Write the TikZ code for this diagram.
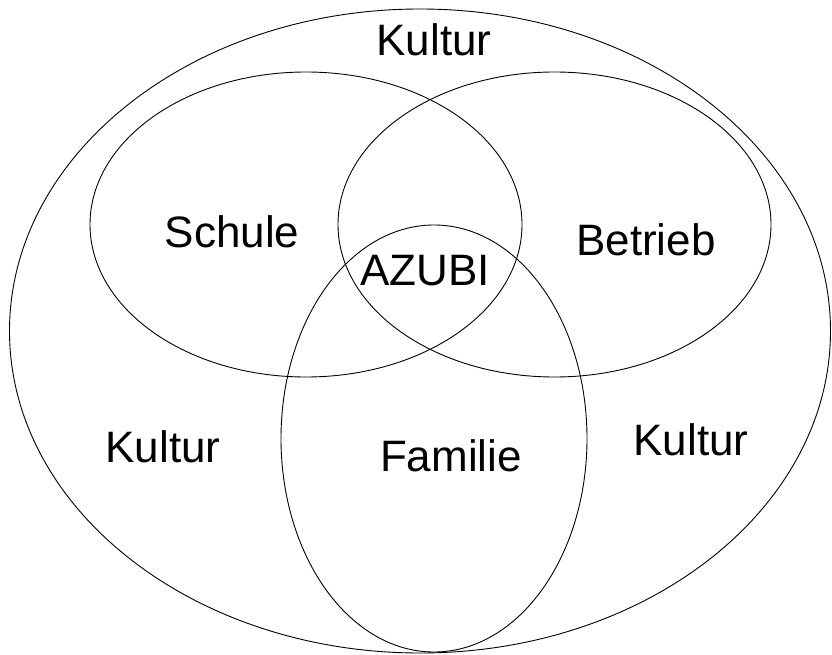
\documentclass[tikz,border=0pt]{standalone}
\usepackage{fontspec}
\setmainfont{Liberation Sans}
\usetikzlibrary{shapes.geometric}
\tikzset{
  ring/.style={ellipse, draw=black, line width=0.9pt, inner sep=0pt},
  lbl/.style={font=\fontsize{44}{50}\selectfont, inner sep=0pt}
}
\begin{document}
\begin{tikzpicture}[x=1pt,y=-1pt]
\useasboundingbox (0,0) rectangle (832,655);
\node[ring, minimum width=821pt, minimum height=644pt] (kultur) at (420,331) {};
\node[ring, minimum width=432pt, minimum height=305pt] (schule) at (306,224.5) {};
\node[ring, minimum width=433pt, minimum height=305pt] (betrieb) at (554.5,224.5) {};
\node[ring, minimum width=306pt, minimum height=427pt] (familie) at (434,438.5) {};
\node[lbl] (tKt) at (434,40) {Kultur};
\node[lbl] (tS) at (232,232) {Schule};
\node[lbl] (tB) at (646,240) {Betrieb};
\node[lbl] (tA) at (425,271) {AZUBI};
\node[lbl] (tKl) at (163,447) {Kultur};
\node[lbl] (tF) at (451,456) {Familie};
\node[lbl] (tKr) at (691,440) {Kultur};
\end{tikzpicture}
\end{document}
